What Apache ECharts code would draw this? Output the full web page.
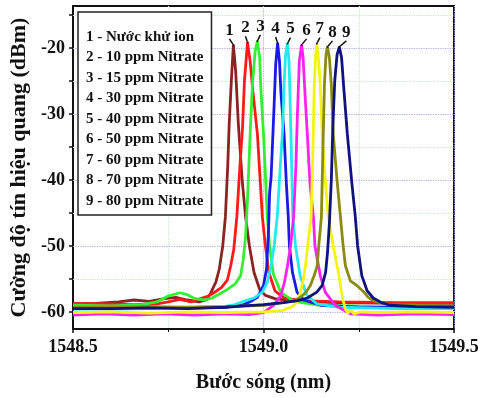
<!DOCTYPE html>
<html>
<head>
<meta charset="utf-8">
<script src="https://cdn.jsdelivr.net/npm/echarts@6/dist/echarts.min.js"></script>
<style>
  html, body { margin: 0; padding: 0; background: #fff; }
  #chart { width: 484px; height: 398px; }
</style>
</head>
<body>
<div id="chart"></div>
<script>
// series names as printed in the legend box
const seriesNames = [
  "1 - Nước khử ion",
  "2 - 10 ppm Nitrate",
  "3 - 15 ppm Nitrate",
  "4 - 30 ppm Nitrate",
  "5 - 40 ppm Nitrate",
  "6 - 50 ppm Nitrate",
  "7 - 60 ppm Nitrate",
  "8 - 70 ppm Nitrate",
  "9 - 80 ppm Nitrate",
];
const peakLabels = ["1", "2", "3", "4", "5", "6", "7", "8", "9"];

// [wavelength nm, power dBm]
const deionizedWater = [
  [1548.50, -58.8], [1548.56, -58.7], [1548.62, -58.5], [1548.66, -58.2], [1548.70, -58.4],
  [1548.74, -58.0], [1548.77, -57.8], [1548.80, -58.2], [1548.83, -58.5], [1548.85, -58.2],
  [1548.861, -57.2], [1548.875, -55.5], [1548.884, -53.5], [1548.893, -50.0], [1548.900, -45.6],
  [1548.906, -38.0], [1548.910, -31.5], [1548.916, -24.5], [1548.921, -19.5], [1548.927, -23.5],
  [1548.934, -31.5], [1548.944, -40.0], [1548.953, -45.6], [1548.963, -50.0], [1548.975, -54.0],
  [1548.990, -56.6], [1549.005, -57.5], [1549.03, -58.0], [1549.07, -58.3], [1549.12, -58.5],
  [1549.20, -58.6], [1549.35, -58.7], [1549.50, -58.7],
];
const nitrate10 = [
  [1548.50, -58.7], [1548.58, -58.8], [1548.66, -58.9], [1548.72, -58.8], [1548.75, -58.5],
  [1548.78, -58.1], [1548.81, -58.5], [1548.835, -58.0], [1548.855, -57.6], [1548.870, -57.1],
  [1548.890, -56.3], [1548.905, -55.2], [1548.914, -53.0], [1548.922, -50.5], [1548.930, -45.6],
  [1548.938, -38.0], [1548.945, -32.0], [1548.950, -25.0], [1548.958, -19.1], [1548.965, -22.0],
  [1548.972, -26.5], [1548.984, -33.0], [1548.997, -45.6], [1549.005, -50.0], [1549.014, -54.0],
  [1549.030, -56.8], [1549.055, -57.9], [1549.10, -58.3], [1549.20, -58.5], [1549.35, -58.6],
  [1549.50, -58.6],
];
const nitrate15 = [
  [1548.50, -59.0], [1548.60, -59.1], [1548.68, -58.9], [1548.72, -58.5], [1548.75, -57.6],
  [1548.78, -57.1], [1548.80, -57.4], [1548.82, -58.0], [1548.845, -58.2], [1548.865, -57.9],
  [1548.887, -57.2], [1548.905, -56.6], [1548.925, -55.8], [1548.940, -54.5], [1548.947, -52.0],
  [1548.953, -48.5], [1548.958, -43.0], [1548.965, -33.0], [1548.971, -25.5], [1548.978, -20.5],
  [1548.984, -18.9], [1548.990, -21.5], [1548.993, -26.0], [1549.000, -33.0], [1549.010, -45.6],
  [1549.016, -50.0], [1549.026, -54.3], [1549.045, -57.0], [1549.080, -58.4], [1549.15, -59.0],
  [1549.30, -59.2], [1549.50, -59.2],
];
const nitrate30 = [
  [1548.50, -59.4], [1548.60, -59.4], [1548.70, -59.3], [1548.80, -59.4], [1548.90, -59.3],
  [1548.948, -58.9], [1548.970, -58.3], [1548.984, -57.8], [1549.000, -56.0], [1549.008, -53.5],
  [1549.013, -48.0], [1549.016, -42.0], [1549.020, -39.5], [1549.024, -34.0], [1549.028, -28.5],
  [1549.032, -22.5], [1549.037, -19.2], [1549.042, -22.0], [1549.046, -27.0], [1549.054, -33.0],
  [1549.060, -40.5], [1549.065, -45.6], [1549.068, -50.0], [1549.076, -54.0], [1549.088, -57.0],
  [1549.105, -58.2], [1549.15, -59.0], [1549.25, -59.3], [1549.50, -59.4],
];
const nitrate40 = [
  [1548.50, -59.6], [1548.60, -59.6], [1548.70, -59.5], [1548.80, -59.4], [1548.85, -59.2],
  [1548.895, -59.2], [1548.925, -58.9], [1548.948, -58.4], [1548.975, -57.9], [1548.997, -57.0],
  [1549.010, -55.5], [1549.020, -53.0], [1549.028, -50.0], [1549.036, -45.6], [1549.044, -38.0],
  [1549.050, -32.5], [1549.054, -25.5], [1549.058, -21.0], [1549.063, -19.3], [1549.067, -22.0],
  [1549.069, -26.0], [1549.072, -33.0], [1549.077, -45.6], [1549.084, -50.0], [1549.096, -54.5],
  [1549.113, -57.4], [1549.140, -58.8], [1549.20, -59.3], [1549.35, -59.5], [1549.50, -59.5],
];
const nitrate50 = [
  [1548.50, -60.5], [1548.58, -60.3], [1548.66, -60.5], [1548.74, -60.3], [1548.82, -60.5],
  [1548.90, -60.3], [1548.96, -60.4], [1549.00, -60.1], [1549.026, -59.0], [1549.045, -57.6],
  [1549.055, -55.5], [1549.063, -53.0], [1549.071, -50.0], [1549.079, -45.6], [1549.085, -38.0],
  [1549.089, -30.0], [1549.094, -22.0], [1549.100, -19.5], [1549.104, -21.5], [1549.108, -26.0],
  [1549.115, -33.0], [1549.122, -40.5], [1549.131, -45.6], [1549.135, -50.0], [1549.149, -54.5],
  [1549.162, -57.0], [1549.188, -59.0], [1549.228, -60.3], [1549.30, -60.5], [1549.40, -60.3],
  [1549.50, -60.4],
];
const nitrate60 = [
  [1548.50, -60.1], [1548.60, -60.0], [1548.70, -60.2], [1548.80, -60.0], [1548.90, -60.1],
  [1549.00, -60.0], [1549.05, -59.8], [1549.075, -59.2], [1549.089, -58.5], [1549.097, -57.0],
  [1549.105, -55.0], [1549.110, -53.0], [1549.116, -50.0], [1549.125, -45.6], [1549.130, -35.0],
  [1549.133, -26.0], [1549.137, -21.0], [1549.140, -19.3], [1549.144, -21.5], [1549.149, -25.5],
  [1549.154, -33.0], [1549.162, -40.0], [1549.170, -45.6], [1549.183, -50.0], [1549.198, -54.5],
  [1549.207, -57.8], [1549.215, -59.6], [1549.222, -60.2], [1549.228, -59.7], [1549.238, -60.3],
  [1549.254, -60.0], [1549.30, -60.1], [1549.40, -60.0], [1549.50, -60.1],
];
const nitrate70 = [
  [1548.50, -59.3], [1548.60, -59.3], [1548.70, -59.2], [1548.80, -59.3], [1548.90, -59.2],
  [1549.00, -59.0], [1549.052, -58.6], [1549.080, -58.3], [1549.097, -57.8], [1549.112, -57.0],
  [1549.123, -56.0], [1549.133, -54.5], [1549.141, -53.0], [1549.145, -50.0], [1549.152, -45.6],
  [1549.156, -35.0], [1549.160, -25.5], [1549.164, -21.0], [1549.168, -19.8], [1549.173, -21.5],
  [1549.178, -25.5], [1549.183, -33.0], [1549.193, -40.0], [1549.202, -45.6], [1549.209, -50.0],
  [1549.215, -53.0], [1549.228, -55.3], [1549.245, -56.0], [1549.262, -56.9], [1549.275, -57.8],
  [1549.288, -58.3], [1549.332, -58.9], [1549.40, -59.0], [1549.50, -59.1],
];
const nitrate80 = [
  [1548.50, -59.5], [1548.60, -59.5], [1548.70, -59.4], [1548.80, -59.5], [1548.90, -59.3],
  [1548.95, -59.1], [1549.00, -58.9], [1549.052, -58.6], [1549.090, -58.3], [1549.115, -57.9],
  [1549.140, -57.0], [1549.154, -56.0], [1549.163, -54.0], [1549.168, -51.0], [1549.173, -46.5],
  [1549.178, -40.0], [1549.182, -32.0], [1549.187, -25.0], [1549.193, -21.0], [1549.199, -19.8],
  [1549.205, -21.5], [1549.210, -25.5], [1549.220, -33.0], [1549.232, -40.5], [1549.241, -45.6],
  [1549.247, -50.0], [1549.258, -54.5], [1549.272, -56.8], [1549.288, -57.9], [1549.310, -58.6],
  [1549.332, -59.0], [1549.40, -59.2], [1549.50, -59.3],
];
const spectra = [
  deionizedWater, nitrate10, nitrate15, nitrate30, nitrate40,
  nitrate50, nitrate60, nitrate70, nitrate80,
];

const yMajorTicks = [-60, -50, -40, -30, -20];
const yMinorTicks = [-55, -45, -35, -25, -15];

const lineColors = [
  "#8b2323", "#ff1a1a", "#33ee33", "#1a1ae6", "#22e8f0",
  "#ff22ee", "#f4f414", "#8b8b12", "#12127f",
];
const labelShiftX = [-4, -2, 3, -2, 3, 5, 3, 5, 7];

const serif = "'Liberation Serif', 'Times New Roman', serif";

function buildSeries(points, i) {
  let peak = 0;
  points.forEach((p, k) => { if (p[1] > points[peak][1]) peak = k; });
  const data = points.map((p, k) => k !== peak ? p : {
    value: p,
    symbol: "circle",
    symbolSize: 2,
    itemStyle: { color: "#111" },
    label: {
      show: true,
      position: "top",
      distance: 2,
      formatter: peakLabels[i],
      color: "#111",
      fontFamily: serif,
      fontWeight: "bold",
      fontSize: 17,
    },
    labelLine: { show: true, lineStyle: { color: "#111", width: 1.5 } },
  });
  return {
    name: seriesNames[i],
    type: "line",
    data,
    symbol: "none",
    showSymbol: true,
    smooth: false,
    lineStyle: { color: lineColors[i], width: 2.8 },
    itemStyle: { color: lineColors[i] },
    labelLayout: { dx: labelShiftX[i], dy: -3 },
    emphasis: { disabled: true },
    z: 3,
  };
}

const gridSeries = {
  type: "line",
  data: [],
  silent: true,
  z: 1,
  markLine: {
    silent: true,
    symbol: "none",
    z: 1,
    label: { show: false },
    data: [
      ...yMajorTicks.map((v) => ({ yAxis: v, lineStyle: { color: "#aaaaf4", type: "dotted", width: 1.2 } })),
      ...yMinorTicks.map((v) => ({ yAxis: v, lineStyle: { color: "#c4ecc4", type: "dotted", width: 1.2 } })),
    ],
  },
};

const chart = echarts.init(document.getElementById("chart"), null, { renderer: "canvas" });

chart.setOption({
  animation: false,
  backgroundColor: "#fff",
  textStyle: { fontFamily: serif },
  grid: {
    left: 72,
    right: 30,
    top: 6,
    bottom: 63,
    show: true,
    borderColor: "#111",
    borderWidth: 2,
    backgroundColor: "#fff",
  },
  legend: {
    data: seriesNames,
    orient: "vertical",
    left: 78,
    top: 12,
    icon: "none",
    itemWidth: 0,
    itemHeight: 10,
    itemGap: 0.5,
    selectedMode: false,
    padding: [15, 8, 4, 3],
    backgroundColor: "#fff",
    borderColor: "#222",
    borderWidth: 1.5,
    textStyle: {
      color: "#111",
      fontFamily: serif,
      fontWeight: "bold",
      fontSize: 15,
      lineHeight: 20,
    },
    z: 10,
  },
  xAxis: {
    type: "value",
    min: 1548.5,
    max: 1549.5,
    interval: 0.5,
    name: "Bước sóng (nm)",
    nameLocation: "middle",
    nameGap: 44,
    nameTextStyle: { color: "#111", fontFamily: serif, fontWeight: "bold", fontSize: 20 },
    axisLine: { show: true, lineStyle: { color: "#111", width: 2 } },
    axisTick: { show: true, inside: false, length: 4, lineStyle: { color: "#111", width: 1.5 } },
    minorTick: { show: true, splitNumber: 2, length: 3, lineStyle: { color: "#111" } },
    axisLabel: {
      color: "#111",
      fontFamily: serif,
      fontWeight: "bold",
      fontSize: 18,
      margin: 9,
      formatter: (v) => v.toFixed(1),
    },
    splitLine: { show: true, lineStyle: { color: "#aaaaf4", type: "dotted", width: 1.2 } },
    minorSplitLine: { show: true, lineStyle: { color: "#c4ecc4", type: "dotted", width: 1.2 } },
  },
  yAxis: {
    type: "value",
    min: -62.6,
    max: -13.6,
    name: "Cường độ tín hiệu quang (dBm)",
    nameLocation: "middle",
    nameGap: 43,
    nameTextStyle: { color: "#111", fontFamily: serif, fontWeight: "bold", fontSize: 22 },
    axisLine: { show: true, lineStyle: { color: "#111", width: 2 } },
    axisTick: {
      show: true,
      inside: false,
      length: 4,
      customValues: [...yMajorTicks, ...yMinorTicks],
      lineStyle: { color: "#111", width: 1.5 },
    },
    axisLabel: {
      color: "#111",
      fontFamily: serif,
      fontWeight: "bold",
      fontSize: 18,
      margin: 8,
      customValues: yMajorTicks,
    },
    splitLine: { show: false },
  },
  series: [gridSeries, ...spectra.map(buildSeries)],
});
</script>
</body>
</html>
